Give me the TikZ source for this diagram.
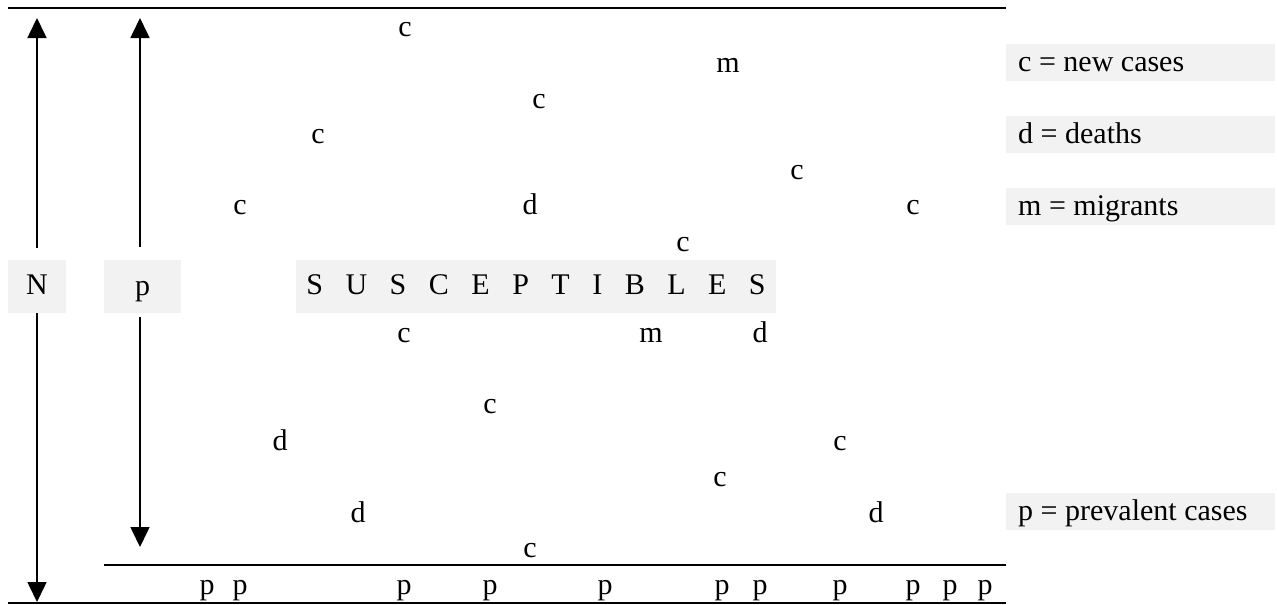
\documentclass[tikz,border=0pt]{standalone}
\usepackage{fontspec}
\setmainfont{Liberation Serif}
\usetikzlibrary{arrows.meta}
\definecolor{boxgray}{HTML}{F2F2F2}
\newcommand\normalspacing{\spaceskip=0pt\xspaceskip=0pt\relax}
\begin{document}
\begin{tikzpicture}[x=1pt,y=-1pt,
  lbl/.style={anchor=base, inner sep=0pt, font=\fontsize{30}{36}\selectfont},
  gbox/.style={fill=boxgray, inner sep=0pt, font=\fontsize{30}{36}\selectfont,
    text height=21pt, text depth=6pt, minimum height=53pt},
  legend/.style={fill=boxgray, anchor=west, inner xsep=12pt, inner ysep=0pt,
    font=\fontsize{30}{36}\selectfont,
    text width=245pt,
    text height=21pt, text depth=3pt, minimum height=37pt},
  arr/.style={line width=1.6pt, -{Triangle[length=20pt,width=19pt]}},
  hline/.style={line width=2.6pt}
]
\useasboundingbox (0,0) rectangle (1277,605);

% horizontal lines
\draw[hline] (8,8) -- (1006,8);
\draw[hline] (104,565) -- (1006,565);
\draw[hline] (8,603) -- (1006,603);

% boxes
\node[gbox, minimum width=58pt] (N) at (37,286.5) {N};
\node[gbox, minimum width=77pt, text depth=3pt] (pbox) at (142.5,286.5) {p};
\node[gbox, minimum width=480pt] (S) at (536,286.5) {\spaceskip=22.5pt\relax S U S C E P T I B L E S};

% arrows
\coordinate (Ntop) at (37,18);
\coordinate (Nbot) at (37,602);
\coordinate (ptop) at (140,18);
\coordinate (pbot) at (140,547);
\draw[arr] ([yshift=12pt]N.north) -- (Ntop);
\draw[arr] (N.south) -- (Nbot);
\draw[arr] ([xshift=-2.5pt,yshift=13pt]pbox.north) -- (ptop);
\draw[arr] ([xshift=-2.5pt,yshift=-4pt]pbox.south) -- (pbot);

% scattered letters
\node[lbl] (c1) at (405,36) {c};
\node[lbl] (m1) at (728,72) {m};
\node[lbl] (c2) at (539,108) {c};
\node[lbl] (c3) at (318,143) {c};
\node[lbl] (c4) at (797,179) {c};
\node[lbl] (c5) at (240,214) {c};
\node[lbl] (d1) at (530,214) {d};
\node[lbl] (c6) at (913,214) {c};
\node[lbl] (c7) at (683,251) {c};
\node[lbl] (c8) at (404,342) {c};
\node[lbl] (m2) at (651,342) {m};
\node[lbl] (d2) at (760,342) {d};
\node[lbl] (c9) at (490,413) {c};
\node[lbl] (d3) at (280,450) {d};
\node[lbl] (c10) at (840,450) {c};
\node[lbl] (c11) at (720,486) {c};
\node[lbl] (d4) at (358,522) {d};
\node[lbl] (d5) at (876,522) {d};
\node[lbl] (c12) at (530,557) {c};

% prevalent cases row
\foreach \x [count=\i] in {207,240,404,490,605,722,760,840,913,950,985}
  \node[lbl] (p\i) at (\x,594) {p};

% legend
\node[legend] (Lc) at (1006,62) {\normalspacing c = new cases};
\node[legend] (Ld) at (1006,134.5) {\normalspacing d = deaths};
\node[legend] (Lm) at (1006,206.5) {\normalspacing m = migrants};
\node[legend] (Lp) at (1006,511.5) {\normalspacing p = prevalent cases};
\end{tikzpicture}
\end{document}
